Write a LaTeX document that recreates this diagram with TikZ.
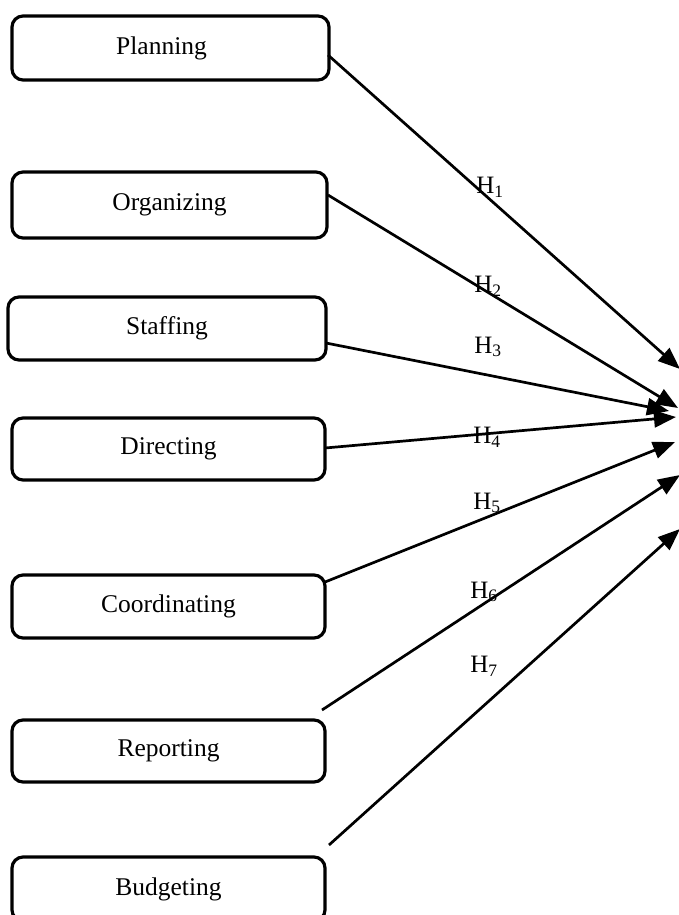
\documentclass[tikz,border=0pt]{standalone}
\usepackage{fontspec}
\setmainfont{Liberation Serif}
\usetikzlibrary{arrows.meta}
\begin{document}
\begin{tikzpicture}[x=1pt,y=-1pt,
  box/.style={draw, line width=3.2pt, rounded corners=11pt, minimum width=315pt, minimum height=63pt, inner sep=0pt, font=\fontsize{25.5}{29}\selectfont},
  conn/.style={line width=2.7pt, -{Triangle[length=22pt,width=17pt]}},
  hlab/.style={font=\fontsize{25}{29}\selectfont, inner sep=0pt}]
\useasboundingbox (0,0) rectangle (678,915);
\node[box, minimum width=317pt, minimum height=64pt, text width=300pt, align=center] (plan) at (170.5,48) {\hspace*{-18pt}Planning};
\node[box, minimum height=66pt] (org) at (169.5,205) {Organizing};
\node[box, minimum width=318pt] (staff) at (167,328.5) {Staffing};
\node[box, minimum width=313pt, minimum height=62pt] (dir) at (168.5,449) {Directing};
\node[box, minimum width=313pt] (coord) at (168.5,606.5) {Coordinating};
\node[box, minimum width=313pt, minimum height=62pt] (rep) at (168.5,751) {Reporting};
\node[box, minimum width=313pt, minimum height=64pt] (bud) at (168.5,889) {Budgeting};
\coordinate (s1) at (328,55);
\coordinate (s2) at (328,195);
\coordinate (s3) at (326,343);
\coordinate (s4) at (325,448);
\coordinate (s5) at (325,582);
\coordinate (s6) at (322,710);
\coordinate (s7) at (329,845);
\coordinate (t1) at (680,369);
\coordinate (t2) at (678,408);
\coordinate (t3) at (669,411);
\coordinate (t4) at (676,417);
\coordinate (t5) at (675,442);
\coordinate (t6) at (680,475);
\coordinate (t7) at (680,529);
\draw[conn] (s1) -- (t1);
\draw[conn] (s2) -- (t2);
\draw[conn] (s3) -- (t3);
\draw[conn] (s4) -- (t4);
\draw[conn] (s5) -- (t5);
\draw[conn] (s6) -- (t6);
\draw[conn] (s7) -- (t7);
\node[hlab] (h1) at (490,187) {H\textsubscript{1}};
\node[hlab] (h2) at (488,286) {H\textsubscript{2}};
\node[hlab] (h3) at (488,347) {H\textsubscript{3}};
\node[hlab] (h4) at (487,437) {H\textsubscript{4}};
\node[hlab] (h5) at (487,503) {H\textsubscript{5}};
\node[hlab] (h6) at (484,592) {H\textsubscript{6}};
\node[hlab] (h7) at (484,666) {H\textsubscript{7}};
\end{tikzpicture}
\end{document}
